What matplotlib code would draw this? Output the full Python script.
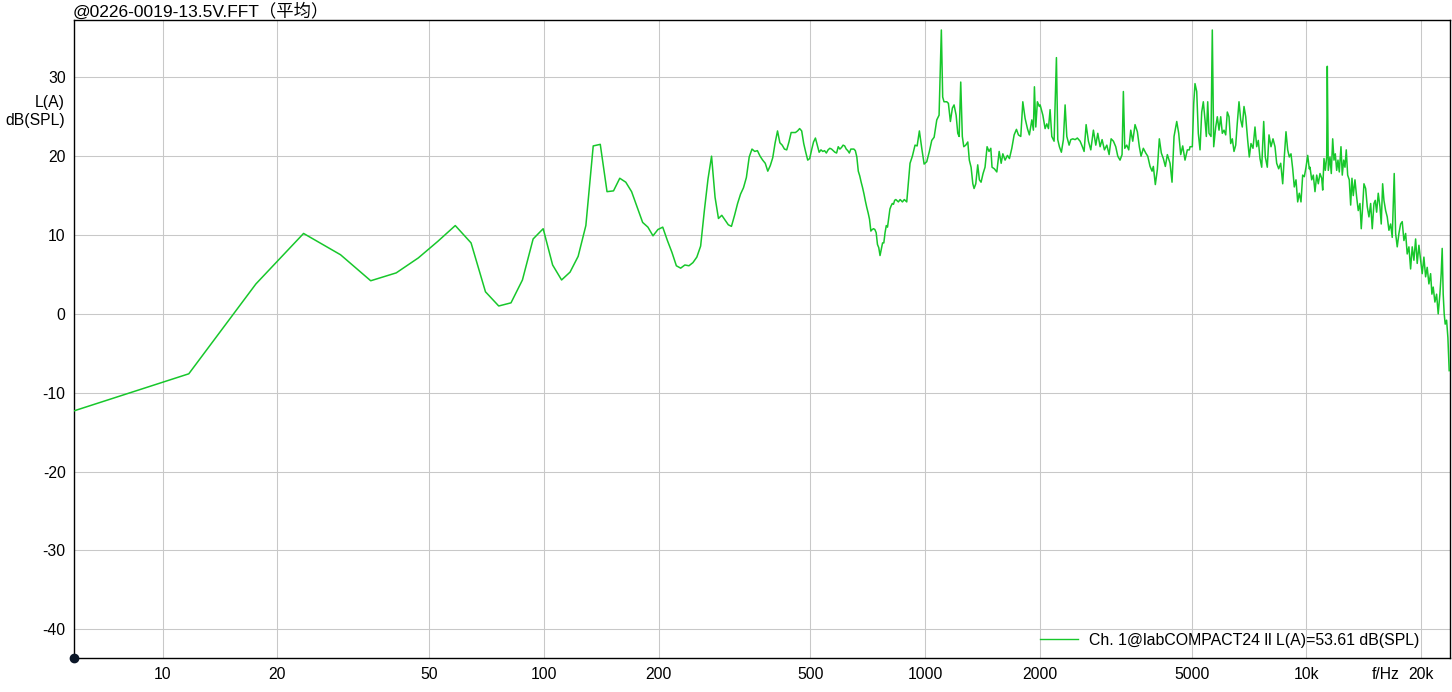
import matplotlib
matplotlib.use("Agg")
import matplotlib.pyplot as plt
from matplotlib.lines import Line2D

# ---------------- data ----------------
# FFT bins below ~840 Hz (bin spacing 5.859 Hz)
lo_freq_hz = [
    5.86, 11.72, 17.58, 23.44, 29.30, 35.16, 41.02, 46.88, 52.73, 58.59,
    64.45, 70.31, 76.17, 82.03, 87.89, 93.75, 99.61, 105.47, 111.33, 117.19,
    123.05, 128.91, 134.77, 140.63, 146.48, 152.34, 158.20, 164.06, 169.92, 175.78,
    181.64, 187.50, 193.36, 199.22, 205.08, 210.94, 216.80, 222.66, 228.52, 234.38,
    240.23, 246.09, 251.95, 257.81, 263.67, 269.53, 275.39, 281.25, 287.11, 292.97,
    298.83, 304.69, 310.55, 316.41, 322.27, 328.13, 333.98, 339.84, 345.70, 351.56,
    357.42, 363.28, 369.14, 375.00, 380.86, 386.72, 392.58, 398.44, 404.30, 410.16,
    416.02, 421.88, 427.73, 433.59, 439.45, 445.31, 451.17, 457.03, 462.89, 468.75,
    474.61, 480.47, 486.33, 492.19, 498.05, 503.91, 509.77, 515.63, 521.48, 527.34,
    533.20, 539.06, 544.92, 550.78, 556.64, 562.50, 568.36, 574.22, 580.08, 585.94,
    591.80, 597.66, 603.52, 609.38, 615.23, 621.09, 626.95, 632.81, 638.67, 644.53,
    650.39, 656.25, 662.11, 667.97, 673.83, 679.69, 685.55, 691.41, 697.27, 703.13,
    708.98, 714.84, 720.70, 726.56, 732.42, 738.28, 744.14, 750.00, 755.86, 761.72,
    767.58, 773.44, 779.30, 785.16, 791.02, 796.88, 802.73, 808.59, 814.45, 820.31,
    826.17, 832.03, 837.89,
]
lo_level_db = [
    -12.3, -7.6, 3.8, 10.2, 7.5, 4.2, 5.2, 7.1, 9.2, 11.2,
    9.0, 2.8, 1.0, 1.4, 4.3, 9.5, 10.8, 6.2, 4.3, 5.3,
    7.3, 11.2, 21.3, 21.5, 15.5, 15.6, 17.2, 16.7, 15.5, 13.5,
    11.6, 11.0, 9.9, 10.7, 11.0, 9.3, 7.8, 6.1, 5.8, 6.2,
    6.1, 6.5, 7.2, 8.6, 13.1, 17.1, 20.0, 14.8, 12.1, 12.5,
    11.9, 11.3, 11.1, 12.5, 14.0, 15.2, 16.0, 17.3, 19.9, 20.9,
    20.6, 20.7, 20.0, 19.5, 19.1, 18.1, 18.8, 19.8, 21.7, 23.2,
    21.7, 21.4, 20.9, 20.8, 21.8, 23.0, 23.0, 23.0, 23.2, 23.5,
    23.2, 21.6, 20.5, 19.5, 19.7, 20.8, 21.8, 22.3, 21.4, 20.5,
    20.8, 20.6, 20.7, 20.4, 20.8, 21.0, 20.9, 20.7, 20.5, 20.4,
    21.2, 20.9, 21.1, 21.4, 21.3, 20.9, 20.7, 20.4, 20.9, 20.9,
    20.9, 20.7, 19.9, 18.1, 17.5, 16.7, 16.0, 15.2, 14.3, 13.5,
    12.8, 12.0, 10.5, 10.7, 10.8, 10.7, 10.3, 8.8, 8.4, 7.4,
    8.2, 9.0, 9.0, 10.3, 11.2, 11.0, 12.2, 13.3, 13.7, 14.0,
    13.9, 14.4, 14.5,
]

# 850 Hz - 2 kHz
band_a_hz = [851, 860, 872, 882, 895, 913, 926, 941, 953, 966,
             980, 994, 1010, 1026, 1041, 1056, 1073, 1088, 1103, 1112,
             1121, 1140, 1151, 1165, 1179, 1191, 1206, 1218, 1228, 1240,
             1252, 1263, 1278, 1294, 1306, 1320, 1334, 1344, 1358, 1374,
             1388, 1402, 1419, 1436, 1454, 1471, 1487, 1498, 1519, 1542,
             1564, 1583, 1599, 1621, 1644, 1664, 1688, 1712, 1736, 1757,
             1782, 1804, 1829, 1855, 1877, 1905, 1923, 1935, 1951, 1970,
             1994]
band_a_db = [14.2, 14.5, 14.2, 14.5, 14.2, 19.1, 20.0, 21.4, 21.3, 23.2,
             21.0, 19.0, 19.3, 20.6, 22.0, 22.4, 24.6, 25.2, 36.0, 27.5,
             26.9, 26.9, 26.7, 24.4, 26.1, 26.5, 25.2, 22.9, 22.5, 29.4,
             22.5, 21.2, 21.4, 21.8, 19.5, 18.6, 16.5, 15.9, 16.5, 18.9,
             17.0, 16.7, 17.8, 18.6, 21.2, 20.6, 21.0, 18.6, 18.4, 18.0,
             20.6, 19.1, 20.3, 19.5, 20.1, 19.7, 21.0, 22.7, 23.4, 22.7,
             22.5, 26.9, 24.8, 23.5, 22.7, 24.6, 23.3, 28.8, 23.7, 26.9,
             26.3]

# 2 kHz - 5 kHz
band_b_hz = [2003, 2036, 2064, 2085, 2106, 2127, 2149, 2179, 2210, 2228,
             2250, 2277, 2305, 2329, 2353, 2386, 2410, 2440, 2474, 2508,
             2550, 2585, 2612, 2644, 2681, 2720, 2763, 2803, 2837, 2877,
             2912, 2953, 2996, 3038, 3075, 3118, 3162, 3201, 3245, 3285,
             3311, 3339, 3379, 3420, 3462, 3504, 3553, 3603, 3646, 3684,
             3735, 3790, 3836, 3890, 3937, 3968, 4016, 4065, 4114, 4164,
             4215, 4266, 4318, 4389, 4442, 4496, 4570, 4625, 4681, 4738,
             4804, 4872, 4931]
band_b_db = [26.5, 25.2, 23.5, 24.1, 23.5, 25.9, 22.5, 21.9, 32.5, 22.1,
             21.2, 20.5, 22.1, 26.5, 22.5, 21.4, 22.1, 22.2, 22.1, 22.3,
             21.9, 21.2, 20.6, 24.0, 21.9, 20.8, 23.3, 21.4, 22.9, 21.2,
             22.1, 20.8, 21.4, 20.2, 22.2, 21.9, 21.2, 20.0, 19.5, 20.2,
             28.2, 21.0, 21.4, 20.8, 23.3, 21.9, 24.0, 23.1, 21.2, 20.0,
             21.0, 20.4, 20.0, 18.7, 18.1, 18.7, 16.4, 18.3, 22.2, 20.4,
             19.7, 18.7, 20.2, 19.1, 16.7, 22.5, 24.4, 22.9, 20.2, 21.3,
             19.5, 20.8, 20.8]

# 5 kHz - 10 kHz
band_c_hz = [4952, 5021, 5064, 5103, 5156, 5206, 5260, 5314, 5366, 5421,
             5464, 5510, 5553, 5621, 5665, 5713, 5783, 5839, 5899, 5960,
             6018, 6080, 6142, 6202, 6266, 6331, 6392, 6458, 6525, 6588,
             6656, 6725, 6790, 6860, 6931, 7015, 7083, 7156, 7243, 7331,
             7407, 7479, 7556, 7634, 7727, 7802, 7896, 7978, 8075, 8173,
             8272, 8357, 8459, 8562, 8666, 8750, 8840, 8931, 9018, 9111,
             9205, 9294, 9390, 9487, 9579, 9678, 9777, 9874, 9976, 10078,
             10176]
band_c_db = [21.2, 21.2, 26.7, 29.2, 28.2, 22.9, 20.8, 25.6, 26.9, 24.6,
             22.5, 26.9, 22.9, 22.5, 36.0, 21.2, 23.7, 25.0, 23.3, 25.0,
             22.9, 23.3, 22.7, 25.6, 25.0, 21.6, 22.2, 20.6, 21.4, 24.2,
             26.9, 24.6, 23.7, 26.3, 25.0, 22.0, 19.9, 21.6, 21.0, 23.7,
             21.2, 22.0, 19.7, 18.6, 24.4, 19.9, 18.6, 22.7, 21.2, 22.2,
             21.2, 19.1, 18.4, 19.1, 16.5, 19.9, 23.1, 20.8, 19.9, 20.3,
             18.4, 16.1, 17.0, 14.2, 15.3, 14.2, 17.6, 17.4, 18.6, 20.1,
             18.4]

# 10 kHz - 24 kHz
band_d_hz = [10219, 10325, 10425, 10532, 10641, 10744, 10855, 10967, 11033, 11120,
             11208, 11303, 11344, 11413, 11530, 11621, 11720, 11812, 11905, 12006,
             12100, 12196, 12321, 12418, 12524, 12622, 12721, 12829, 12954, 13064,
             13167, 13270, 13407, 13545, 13676, 13817, 13926, 14044, 14155, 14301,
             14440, 14589, 14739, 14882, 15036, 15154, 15282, 15431, 15590, 15712,
             15846, 15971, 16135, 16292, 16460, 16629, 16791, 16994, 17138, 17305,
             17483, 17663, 17835, 18019, 18205, 18381, 18571, 18762, 18944, 19140,
             19337, 19525, 19726, 19929, 20122, 20330, 20539, 20739, 20953, 21169,
             21336, 21504, 21726, 21949, 22163, 22391, 22567, 22704, 22842, 22980,
             23119, 23315, 23499, 23684]
band_d_db = [18.6, 17.0, 17.6, 15.5, 17.6, 16.5, 17.8, 17.2, 15.7, 19.7,
             18.2, 19.9, 31.4, 18.2, 19.9, 17.8, 22.2, 19.5, 20.3, 18.2,
             19.5, 18.0, 21.2, 17.6, 19.5, 18.6, 20.8, 17.6, 17.0, 13.8,
             17.2, 15.0, 17.0, 14.8, 13.1, 14.0, 10.8, 13.6, 16.5, 15.9,
             13.6, 12.3, 14.0, 10.8, 14.0, 14.4, 12.9, 15.3, 13.6, 11.4,
             16.5, 14.4, 13.1, 12.3, 10.6, 11.4, 9.7, 17.8, 10.2, 8.5,
             10.2, 11.4, 11.7, 9.3, 10.2, 7.6, 8.5, 5.7, 8.5, 6.8,
             9.5, 6.4, 8.7, 6.8, 5.1, 7.2, 4.7, 5.9, 3.8, 5.1,
             2.5, 3.4, 1.5, 2.5, 0.0, 2.5, 5.1, 8.3, 2.5, 0.0,
             -1.3, -0.8, -3.0, -7.2]

x_ticks = [10, 20, 50, 100, 200, 500, 1000, 2000, 5000, 10000, 20000]
x_tick_labels = ["10", "20", "50", "100", "200", "500", "1000", "2000", "5000", "10k", "20k"]
y_ticks = [-40, -30, -20, -10, 0, 10, 20, 30]

title_text = "@0226-0019-13.5V.FFT（平均）"
legend_label = "Ch. 1@labCOMPACT24 ll L(A)=53.61 dB(SPL)"

# ---------------- assemble ----------------
pairs = [(lo_freq_hz, lo_level_db), (band_a_hz, band_a_db), (band_b_hz, band_b_db),
         (band_c_hz, band_c_db), (band_d_hz, band_d_db)]
freq, level = [], []
for f, v in pairs:
    assert len(f) == len(v), (len(f), len(v))
    freq += list(f)
    level += list(v)

FONT = ["Liberation Sans", "Noto Sans CJK SC", "DejaVu Sans"]
plt.rcParams["font.family"] = FONT
plt.rcParams["font.size"] = 11

W, H = 1452, 692
fig = plt.figure(figsize=(W / 100, H / 100), dpi=100)
L, R, T, B = 74, 1450, 20, 658.3
ax = fig.add_axes([L / W, 1 - B / H, (R - L) / W, (B - T) / H])

GREEN = "#17c72b"
ax.plot(freq, level, color=GREEN, lw=1.1, solid_joinstyle="round", zorder=3)

ax.set_xscale("log")
ax.set_xlim(5.86, 23800)
ax.set_ylim(-43.68, 37.27)

ax.set_xticks(x_ticks)
ax.set_xticklabels(x_tick_labels)
ax.set_xticks([16150], minor=True)
ax.set_xticklabels(["f/Hz"], minor=True)
ax.set_yticks(y_ticks)
ax.set_yticklabels([str(v) for v in y_ticks])
ax.tick_params(axis="both", which="both", length=0, labelsize=11.3, colors="black")
ax.tick_params(axis="x", which="both", pad=6.0)
ax.tick_params(axis="y", pad=6.0)

ax.grid(True, which="major", color="#c8c8c8", lw=0.75, zorder=0)
ax.grid(False, which="minor")
for s in ax.spines.values():
    s.set_color("black")
    s.set_linewidth(1.0)

# origin dot
ax.plot([0], [0], "o", ms=6, color="#0b1628", transform=ax.transAxes,
        clip_on=False, zorder=6)

# y-axis unit labels
fig.text(65 / W, 1 - 103 / H, "L(A)", ha="right", va="center", fontsize=11.3)
fig.text(65 / W, 1 - 121 / H, "dB(SPL)", ha="right", va="center", fontsize=11.3)

# title
fig.text(73 / W, 1 - 16.5 / H, title_text, ha="left", va="baseline", fontsize=12.5,
         family=FONT)

# legend
handle = Line2D([], [], color=GREEN, lw=1.0)
ax.legend([handle], [legend_label], loc="center right",
          bbox_to_anchor=((1419 - L) / (R - L), (B - 640) / (B - T)),
          frameon=False, borderpad=0, borderaxespad=0, handlelength=2.45,
          handletextpad=0.65, fontsize=11.4)

fig.savefig("out.png", dpi=100)
